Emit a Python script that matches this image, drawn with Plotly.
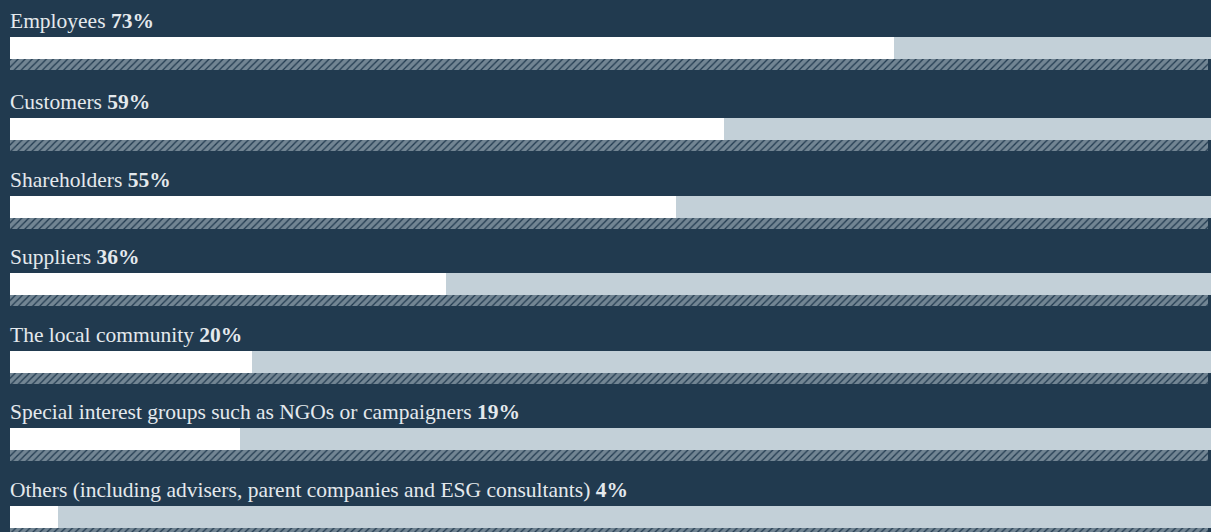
import plotly.graph_objects as go

# Stakeholder groups and share of respondents (%)
categories = [
    "Employees",
    "Customers",
    "Shareholders",
    "Suppliers",
    "The local community",
    "Special interest groups such as NGOs or campaigners",
    "Others (including advisers, parent companies and ESG consultants)",
]
values = [73, 59, 55, 36, 20, 19, 4]

BG = "#213a4f"
TRACK = "#c3d0d8"
FILL = "#ffffff"
TEXT = "#e4e9ed"

W, H = 1211, 532
LEFT = 10
PX_PER_PCT = 12.11          # 100% spans slightly past the right edge
BAR_H = 22
HATCH_H = 11
PITCH = 77.6

# vertical layout in pixel units (y axis is reversed so y == screen pixel)
tops = []
for i in range(len(categories)):
    t = 118 + PITCH * (i - 1)
    if i == 0:
        t = 37
    tops.append(t)
bar_centers = [t + BAR_H / 2 for t in tops]
hatch_centers = [t + BAR_H + HATCH_H / 2 for t in tops]

fig = go.Figure()

# full-length grey track
fig.add_trace(go.Bar(
    x=[100] * len(categories), y=bar_centers, orientation="h",
    width=BAR_H, marker=dict(color=TRACK, line=dict(width=0)),
    hoverinfo="skip", showlegend=False,
))
# value bar
fig.add_trace(go.Bar(
    x=values, y=bar_centers, orientation="h",
    width=BAR_H, marker=dict(color=FILL, line=dict(width=0)),
    customdata=categories,
    hovertemplate="%{customdata}: %{x}%<extra></extra>",
    showlegend=False,
))
# hatched strip under each bar
fig.add_trace(go.Bar(
    x=[98.9] * len(categories), y=hatch_centers, orientation="h",
    width=HATCH_H,
    marker=dict(
        color=BG, line=dict(width=0),
        pattern=dict(shape="/", bgcolor=BG, fgcolor=TRACK,
                     size=5, solidity=0.75, fillmode="overlay"),
    ),
    hoverinfo="skip", showlegend=False,
))

annotations = []
for cat, val, top in zip(categories, values, tops):
    annotations.append(dict(
        x=0, y=top - 2, xref="x", yref="y",
        xanchor="left", yanchor="bottom", showarrow=False,
        text=f"{cat} <b>{val}%</b>",
        font=dict(family="Liberation Serif", size=21.5, color=TEXT),
        xshift=-2,
    ))

fig.update_layout(
    width=W, height=H,
    margin=dict(l=LEFT, r=0, t=0, b=0),
    paper_bgcolor=BG, plot_bgcolor=BG,
    barmode="overlay", bargap=0,
    xaxis=dict(range=[0, (W - LEFT) / PX_PER_PCT], visible=False, fixedrange=True),
    yaxis=dict(range=[H, 0], visible=False, fixedrange=True),
    annotations=annotations,
)

fig.write_html("out.html")
